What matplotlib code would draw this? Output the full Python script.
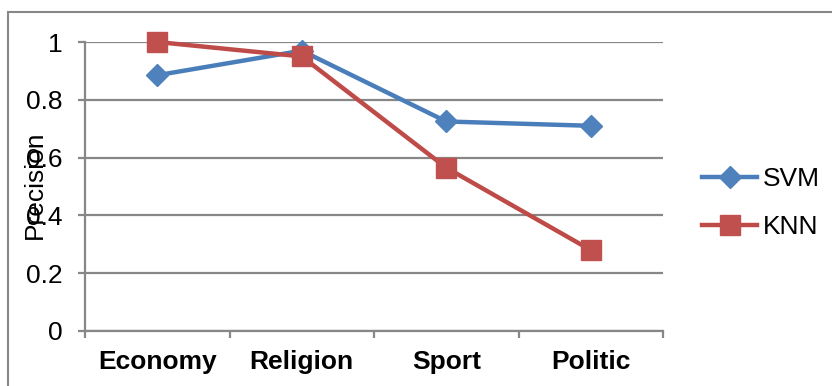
import matplotlib
matplotlib.use("Agg")
import matplotlib.pyplot as plt
from matplotlib.patches import Rectangle
from matplotlib.ticker import FixedLocator

categories = ["Economy", "Religion", "Sport", "Politic"]
svm = [0.885, 0.97, 0.725, 0.71]
knn = [1.0, 0.95, 0.565, 0.28]
yticks = [0, 0.2, 0.4, 0.6, 0.8, 1]
ytick_labels = ["0", "0.2", "0.4", "0.6", "0.8", "1"]

plt.rcParams['font.family'] = ['Liberation Sans', 'DejaVu Sans']
W, H = 832, 386
fig = plt.figure(figsize=(W/100, H/100), dpi=100)
ax = fig.add_axes([85/W, 1-331/H, (663-85)/W, (331-42)/H])

grey = "#878787"
x = list(range(len(categories)))
ax.plot(x, svm, color="#4A7EBB", lw=3.2, marker="D", ms=11, mfc="#4F81BD", mec="#4F81BD",
        label="SVM", zorder=3, clip_on=False)
ax.plot(x, knn, color="#BE4B48", lw=3.2, marker="s", ms=15, mfc="#C0504D", mec="#C0504D",
        label="KNN", zorder=3, clip_on=False)

ax.set_xlim(-0.5, len(categories)-0.5)
ax.set_ylim(0, 1)
ax.set_yticks(yticks)
ax.set_yticklabels(ytick_labels)
ax.yaxis.grid(True, color=grey, lw=1.6)
ax.set_axisbelow(True)

ax.xaxis.set_major_locator(FixedLocator([i-0.5 for i in range(len(categories)+1)]))
ax.xaxis.set_major_formatter(plt.NullFormatter())
ax.xaxis.set_minor_locator(FixedLocator(x))
ax.set_xticklabels(categories, minor=True, fontweight="bold", fontsize=19)
ax.tick_params(axis="x", which="minor", length=0, pad=14)
ax.tick_params(axis="x", which="major", length=5, width=1.6, color=grey)
ax.tick_params(axis="y", length=5, width=1.6, color=grey, labelsize=19, pad=11)

for s in ["top", "right"]:
    ax.spines[s].set_visible(False)
for s in ["left", "bottom"]:
    ax.spines[s].set_color(grey)
    ax.spines[s].set_linewidth(1.6)

fig.text(35/W, 1-185/H, "Precision", rotation=90, ha="center", va="center", fontsize=19)

leg = fig.legend(loc="center left", bbox_to_anchor=(702/W, 1-203/H), frameon=False,
                 fontsize=19, handlelength=2.1, handletextpad=0.2, labelspacing=0.9,
                 borderpad=0, borderaxespad=0)

fig.patches.append(Rectangle((8/W, -0.1), 1.0, (H-12)/H + 0.1, transform=fig.transFigure,
                             fill=False, edgecolor=grey, lw=1.5))

fig.savefig("out.png", dpi=100)
